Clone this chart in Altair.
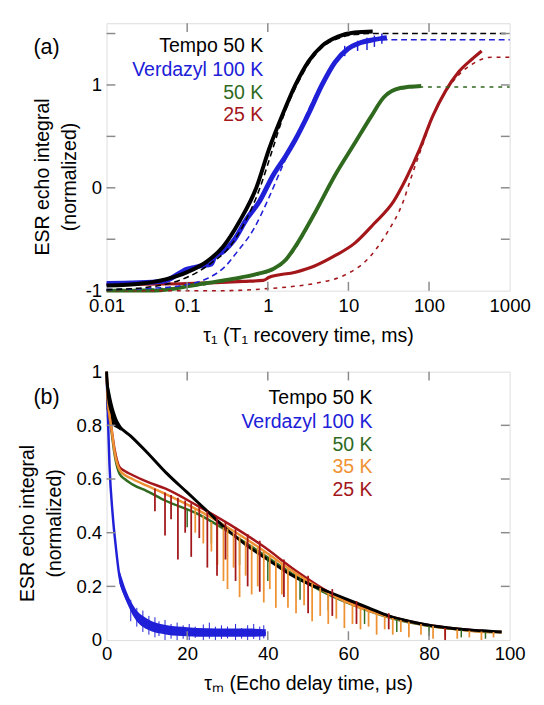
import altair as alt
import pandas as pd

# ---------------- Panel (a): T1 recovery ----------------
a_tempo_x = [0.01, 0.027, 0.054, 0.1, 0.18, 0.28, 0.45, 0.72, 1.04, 1.54, 2.2, 3.2, 4.7, 7.4, 11.9, 20]
a_tempo_y = [-0.95, -0.93, -0.89, -0.82, -0.71, -0.57, -0.32, 0.0, 0.38, 0.72, 1.0, 1.23, 1.38, 1.47, 1.51, 1.52]
a_verd_x = [0.01, 0.05, 0.1, 0.15, 0.2, 0.22, 0.28, 0.38, 0.55, 0.79, 1.16, 1.67, 2.2, 3.2, 4.7, 6.8, 9.8, 14, 20.7, 30]
a_verd_y = [-0.93, -0.91, -0.79, -0.76, -0.74, -0.67, -0.62, -0.51, -0.30, -0.13, 0.12, 0.31, 0.47, 0.72, 1.0, 1.22, 1.35, 1.41, 1.44, 1.46]
a_50_x = [0.01, 0.04, 0.135, 0.34, 0.72, 1.16, 1.67, 2.2, 3.8, 6.8, 11.9, 19, 27.5, 44, 80]
a_50_y = [-1.0, -1.0, -0.94, -0.89, -0.84, -0.79, -0.70, -0.57, -0.25, 0.12, 0.43, 0.69, 0.88, 0.97, 0.99]
a_25_x = [0.01, 0.1, 0.5, 0.88, 1.04, 2.2, 3.8, 6.8, 11.9, 20.7, 36.5, 52, 77, 110, 160, 235, 340, 450]
a_25_y = [-0.94, -0.93, -0.91, -0.90, -0.87, -0.82, -0.76, -0.66, -0.54, -0.35, -0.13, 0.09, 0.38, 0.69, 0.94, 1.13, 1.25, 1.33]

fit_tempo_x = [0.01, 0.03, 0.06, 0.1, 0.2, 0.34, 0.5, 0.8, 1.1, 1.6, 2.3, 3.3, 5, 8, 12, 20, 1000]
fit_tempo_y = [-0.99, -0.97, -0.93, -0.87, -0.73, -0.57, -0.36, 0.0, 0.33, 0.72, 1.0, 1.22, 1.38, 1.46, 1.49, 1.5, 1.5]
fit_verd_x = [0.01, 0.05, 0.1, 0.18, 0.3, 0.41, 0.67, 1.0, 1.6, 2.3, 3.3, 5, 8, 13, 25, 1000]
fit_verd_y = [-0.99, -0.97, -0.94, -0.88, -0.76, -0.63, -0.40, -0.12, 0.25, 0.5, 0.78, 1.05, 1.28, 1.39, 1.44, 1.44]
fit_50_x = [0.01, 0.135, 0.34, 0.72, 1.16, 1.67, 2.2, 3.8, 6.8, 11.9, 19, 27.5, 44, 80, 1000]
fit_50_y = [-1.0, -0.95, -0.90, -0.85, -0.80, -0.71, -0.59, -0.26, 0.11, 0.43, 0.69, 0.88, 0.96, 0.98, 0.98]
fit_25_x = [0.01, 0.3, 1, 2, 3.8, 8.9, 17, 30, 48, 60, 80, 110, 160, 235, 340, 450, 600, 1000]
fit_25_y = [-1.0, -1.0, -0.98, -0.96, -0.93, -0.85, -0.70, -0.44, -0.13, 0.1, 0.38, 0.68, 0.93, 1.10, 1.20, 1.25, 1.27, 1.27]

a_verd_spike_x = [9, 13, 17, 21, 26]
a_verd_spike_top = [1.38, 1.43, 1.46, 1.48, 1.50]
a_verd_spike_bot = [1.28, 1.33, 1.34, 1.37, 1.40]

a_xticks = [0.01, 0.1, 1, 10, 100, 1000]
a_yticks = [-1, -0.5, 0, 0.5, 1, 1.5]
a_xticks_inner = [0.1, 1, 10, 100]
a_yticks_left = [-0.5, 0, 0.5, 1, 1.5]
a_yticks_right = [-0.5, 0, 0.5, 1, 1.5]

a_labels = ["Tempo 50 K", "Verdazyl 100 K", "50 K", "25 K"]
a_label_x = [0.88, 0.88, 0.88, 0.88]
a_label_y = [1.377, 1.14, 0.925, 0.71]

# ---------------- Panel (b): echo decay ----------------
b_tempo_x = [0, 0.3, 0.7, 1.5, 3, 6, 10, 15, 20, 25, 30, 35, 40, 45, 50, 55, 60, 65, 70, 75, 80, 85, 90, 95, 98]
b_tempo_y = [1.0, 0.93, 0.88, 0.84, 0.80, 0.76, 0.70, 0.62, 0.55, 0.48, 0.41, 0.35, 0.30, 0.25, 0.21, 0.18, 0.15, 0.12, 0.09, 0.07, 0.055, 0.045, 0.038, 0.033, 0.03]
b_tempo_band_x = [0, 0.3, 0.8, 1.5, 2.5, 3.5]
b_tempo_band_lo = [0.86, 0.84, 0.82, 0.80, 0.79, 0.78]
b_tempo_band_hi = [1.0, 0.97, 0.93, 0.88, 0.83, 0.80]

b_verd_x = [0, 0.33, 0.73, 1.5, 2.35, 3.16, 4.8, 6.4, 10.4, 14.5, 20, 25, 30, 35, 39.5]
b_verd_y = [1.0, 0.83, 0.65, 0.47, 0.34, 0.24, 0.16, 0.115, 0.06, 0.043, 0.035, 0.03, 0.03, 0.028, 0.025]
b_verd_band_x = [3.2, 5, 7, 10, 15, 20, 25, 30, 35, 39.5]
b_verd_band_lo = [0.21, 0.14, 0.08, 0.04, 0.02, 0.014, 0.012, 0.012, 0.012, 0.014]
b_verd_band_hi = [0.26, 0.18, 0.12, 0.08, 0.055, 0.048, 0.044, 0.043, 0.043, 0.04]
b_verd_spike_x = [6, 7.5, 9, 10.5, 12, 13, 14.5, 16, 17.5, 19, 20.5, 22, 24, 25.5, 27, 28.5, 30, 32, 33.5, 35, 36.5, 38, 39]
b_verd_spike_top = [0.15, 0.12, 0.11, 0.09, 0.085, 0.07, 0.075, 0.06, 0.065, 0.055, 0.06, 0.05, 0.058, 0.065, 0.05, 0.055, 0.05, 0.06, 0.045, 0.055, 0.06, 0.05, 0.055]
b_verd_spike_bot = [0.07, 0.05, 0.03, 0.02, 0.01, 0.015, 0.0, 0.005, 0.0, 0.005, 0.0, 0.008, 0.0, 0.005, 0.0, 0.004, 0.006, 0.0, 0.005, 0.0, 0.004, 0.0, 0.006]

b_common_x = [0, 0.3, 0.7, 1.2, 2.0, 3.2, 4.5, 6.4, 10, 14.5, 22.6, 30.6, 38.8, 46.8, 55, 63, 71, 79, 87, 95, 98]
b_50_y = [1.0, 0.90, 0.84, 0.78, 0.69, 0.62, 0.60, 0.58, 0.555, 0.52, 0.47, 0.40, 0.32, 0.24, 0.17, 0.12, 0.08, 0.055, 0.04, 0.03, 0.03]
b_35_y = [1.0, 0.90, 0.84, 0.79, 0.70, 0.635, 0.615, 0.60, 0.575, 0.545, 0.485, 0.415, 0.335, 0.25, 0.175, 0.12, 0.082, 0.056, 0.04, 0.03, 0.03]
b_25_y = [1.0, 0.90, 0.84, 0.79, 0.71, 0.645, 0.63, 0.615, 0.59, 0.565, 0.50, 0.43, 0.35, 0.26, 0.18, 0.125, 0.085, 0.058, 0.042, 0.032, 0.03]

b_35_spike_x = [22, 24, 26, 27.5, 29, 30, 31.5, 33, 34.5, 36, 37.5, 39, 40.5, 42, 43.5, 45, 47, 49, 51, 53, 55, 57, 59, 61, 63, 65, 67, 69, 71, 73, 75, 78, 81, 84, 87, 90, 93, 96]
b_35_spike_top = [0.49, 0.465, 0.44, 0.43, 0.42, 0.415, 0.40, 0.385, 0.37, 0.355, 0.345, 0.33, 0.315, 0.30, 0.285, 0.27, 0.25, 0.23, 0.21, 0.195, 0.175, 0.16, 0.145, 0.135, 0.12, 0.11, 0.10, 0.09, 0.082, 0.075, 0.068, 0.06, 0.052, 0.045, 0.04, 0.035, 0.032, 0.03]
b_35_spike_bot = [0.40, 0.36, 0.33, 0.28, 0.22, 0.19, 0.27, 0.16, 0.24, 0.17, 0.20, 0.14, 0.19, 0.12, 0.17, 0.12, 0.10, 0.13, 0.07, 0.09, 0.06, 0.08, 0.045, 0.06, 0.04, 0.05, 0.02, 0.04, 0.02, 0.03, 0.01, 0.02, 0.005, 0.01, 0.005, 0.01, 0.0, 0.01]
b_25_spike_x = [12, 14.5, 16, 17.7, 19.5, 21, 23, 25, 27.4, 29.5, 32, 35, 38, 44, 50, 56, 62, 70, 84]
b_25_spike_top = [0.565, 0.55, 0.54, 0.53, 0.52, 0.51, 0.495, 0.48, 0.46, 0.44, 0.42, 0.395, 0.37, 0.30, 0.24, 0.19, 0.145, 0.10, 0.045]
b_25_spike_bot = [0.48, 0.39, 0.45, 0.30, 0.40, 0.31, 0.38, 0.27, 0.24, 0.30, 0.22, 0.20, 0.18, 0.16, 0.10, 0.09, 0.06, 0.04, 0.0]
b_50_spike_x = [20, 26, 33, 40, 48, 55, 64, 72, 80, 88, 94]
b_50_spike_top = [0.485, 0.44, 0.37, 0.31, 0.23, 0.17, 0.115, 0.078, 0.052, 0.038, 0.03]
b_50_spike_bot = [0.42, 0.36, 0.28, 0.22, 0.15, 0.11, 0.06, 0.03, 0.015, 0.01, 0.005]

b_xticks = [0, 20, 40, 60, 80, 100]
b_yticks = [0, 0.2, 0.4, 0.6, 0.8, 1.0]
b_xticks_inner = [20, 40, 60, 80]
b_yticks_left = [0.2, 0.4, 0.6, 0.8]
b_yticks_right = [0.2, 0.4, 0.6, 0.8]

b_labels = ["Tempo 50 K", "Verdazyl 100 K", "50 K", "35 K", "25 K"]
b_label_x = [66, 66, 66, 66, 66]
b_label_y = [0.902, 0.811, 0.727, 0.644, 0.56]

# ---------------- styling ----------------
FONT = "Liberation Sans"
BLACK, BLUE, GREEN, ORANGE, RED = "#000000", "#2020d8", "#2f6a1f", "#ef9234", "#a3161a"
FRAME = "#8a8a8a"
names = ["Tempo 50 K", "Verdazyl 100 K", "50 K", "35 K", "25 K"]
cscale = alt.Scale(domain=names, range=[BLACK, BLUE, GREEN, ORANGE, RED])

W = 413
HA, HB = 274, 275
TL = 9


def panel(xscale, yscale, xaxis, yaxis, fits, datas, bands, spikes, xt_inner, yt_left, yt_right,
          labels, H, tag, tag_y):
    X = lambda f: alt.X(f, scale=xscale, axis=xaxis)
    Y = lambda f: alt.Y(f, scale=yscale, axis=yaxis)
    layers = []
    for (xs, lo, hi, col) in bands:
        layers.append(alt.Chart(pd.DataFrame({"x": xs, "lo": lo, "hi": hi})).mark_area(
            color=col, opacity=1, interpolate="monotone").encode(
            x=X("x:Q"), y=Y("lo:Q"), y2="hi:Q"))
    for (xs, ys, col, w) in datas:
        layers.append(alt.Chart(pd.DataFrame({"x": xs, "y": ys})).mark_line(
            color=col, strokeWidth=w, strokeJoin="round", interpolate="monotone").encode(
            x=X("x:Q"), y=Y("y:Q")))
    for (xs, tops, bots, col, w) in spikes:
        layers.append(alt.Chart(pd.DataFrame({"x": xs, "t": tops, "b": bots})).mark_rule(
            color=col, strokeWidth=w).encode(
            x=X("x:Q"), y=Y("t:Q"), y2="b:Q"))
    for (xs, ys, col, dash) in fits:
        layers.append(alt.Chart(pd.DataFrame({"x": xs, "y": ys})).mark_line(
            color=col, strokeWidth=1.6, strokeDash=dash, interpolate="monotone").encode(
            x=X("x:Q"), y=Y("y:Q")))
    # inward ticks on all four sides
    layers.append(alt.Chart(pd.DataFrame({"v": yt_left})).mark_rule(color=FRAME, strokeWidth=1.5).encode(
        y=Y("v:Q"), x=alt.value(0), x2=alt.value(TL)))
    layers.append(alt.Chart(pd.DataFrame({"v": yt_right})).mark_rule(color=FRAME, strokeWidth=1.5).encode(
        y=Y("v:Q"), x=alt.value(W - TL), x2=alt.value(W)))
    layers.append(alt.Chart(pd.DataFrame({"v": xt_inner})).mark_rule(color=FRAME, strokeWidth=1.5).encode(
        x=X("v:Q"), y=alt.value(0), y2=alt.value(TL)))
    layers.append(alt.Chart(pd.DataFrame({"v": xt_inner})).mark_rule(color=FRAME, strokeWidth=1.5).encode(
        x=X("v:Q"), y=alt.value(H - TL), y2=alt.value(H)))
    # legend labels
    lx, ly, lt = labels
    layers.append(alt.Chart(pd.DataFrame({"x": lx, "y": ly, "label": lt})).mark_text(
        align="right", baseline="middle", fontSize=20, font=FONT).encode(
        x=X("x:Q"), y=Y("y:Q"), text="label:N",
        color=alt.Color("label:N", scale=cscale, legend=None)))
    # panel tag
    layers.append(alt.Chart(pd.DataFrame({"t": [tag]})).mark_text(
        align="left", baseline="middle", fontSize=22, font=FONT, color="black").encode(
        x=alt.value(-75), y=alt.value(tag_y), text="t:N"))
    return alt.layer(*layers).properties(width=W, height=H)


common_axis = dict(ticks=False, domain=False, grid=False, labelFontSize=19, labelColor="black",
                   labelFont=FONT, labelFlush=False, titleFontSize=20, titleFontWeight="normal",
                   titleFont=FONT, titleColor="black")

# Panel (a)
xs_a = alt.Scale(type="log", domain=[0.01, 1000], nice=False)
ys_a = alt.Scale(domain=[-1, 1.6], nice=False, zero=False)
xaxis_a = alt.Axis(values=a_xticks, labelExpr="'' + datum.value", labelPadding=6, titlePadding=11,
                   title="τ₁  (T₁ recovery time, ms)", **common_axis)
yaxis_a = alt.Axis(values=a_yticks,
                   labelExpr="datum.value == -1 ? '-1' : datum.value == 0 ? '0' : datum.value == 1 ? '1' : ''",
                   labelPadding=5, title=["ESR echo integral", "(normalized)"], titleLineHeight=28,
                   titleAngle=270, titleBaseline="middle", titleX=-66, titleY=157, **common_axis)

chart_a = panel(
    xs_a, ys_a, xaxis_a, yaxis_a,
    fits=[(fit_25_x, fit_25_y, RED, [4, 5]), (fit_50_x, fit_50_y, GREEN, [4, 5]),
          (fit_verd_x, fit_verd_y, BLUE, [6, 4]), (fit_tempo_x, fit_tempo_y, BLACK, [6, 4])],
    datas=[(a_25_x, a_25_y, RED, 3.2), (a_50_x, a_50_y, GREEN, 4),
           (a_verd_x, a_verd_y, BLUE, 5), (a_tempo_x, a_tempo_y, BLACK, 4)],
    bands=[],
    spikes=[(a_verd_spike_x, a_verd_spike_top, a_verd_spike_bot, BLUE, 1.5)],
    xt_inner=a_xticks_inner, yt_left=a_yticks_left, yt_right=a_yticks_right,
    labels=(a_label_x, a_label_y, a_labels), H=HA, tag="(a)", tag_y=25)

# Panel (b)
xs_b = alt.Scale(domain=[0, 100], nice=False, zero=False)
ys_b = alt.Scale(domain=[0, 1], nice=False, zero=False)
xaxis_b = alt.Axis(values=b_xticks, labelExpr="'' + datum.value", labelPadding=5, titlePadding=11,
                   title="τₘ  (Echo delay time, μs)", **common_axis)
yaxis_b = alt.Axis(values=b_yticks, labelExpr="'' + datum.value", labelPadding=5,
                   title=["ESR echo integral", "(normalized)"], titleLineHeight=28,
                   titleAngle=270, titleBaseline="middle", titleX=-81, titleY=155, **common_axis)

chart_b = panel(
    xs_b, ys_b, xaxis_b, yaxis_b,
    fits=[],
    datas=[(b_verd_x, b_verd_y, BLUE, 2.5), (b_common_x, b_50_y, GREEN, 2.5),
           (b_common_x, b_25_y, RED, 2.5), (b_common_x, b_35_y, ORANGE, 2.5),
           (b_tempo_x, b_tempo_y, BLACK, 3)],
    bands=[(b_verd_band_x, b_verd_band_lo, b_verd_band_hi, BLUE),
           (b_tempo_band_x, b_tempo_band_lo, b_tempo_band_hi, BLACK)],
    spikes=[(b_verd_spike_x, b_verd_spike_top, b_verd_spike_bot, BLUE, 1.0),
            (b_50_spike_x, b_50_spike_top, b_50_spike_bot, GREEN, 1.5),
            (b_35_spike_x, b_35_spike_top, b_35_spike_bot, ORANGE, 1.8),
            (b_25_spike_x, b_25_spike_top, b_25_spike_bot, RED, 1.8)],
    xt_inner=b_xticks_inner, yt_left=b_yticks_left, yt_right=b_yticks_right,
    labels=(b_label_x, b_label_y, b_labels), H=HB, tag="(b)", tag_y=26)

chart = alt.vconcat(chart_a, chart_b, spacing=83, bounds="flush").configure_view(
    stroke=FRAME, strokeWidth=1.5).configure(
    font=FONT, padding={"left": 9, "top": 5, "right": 5, "bottom": 5})

chart.save("out.html", embed_options={"renderer": "svg", "actions": False})
